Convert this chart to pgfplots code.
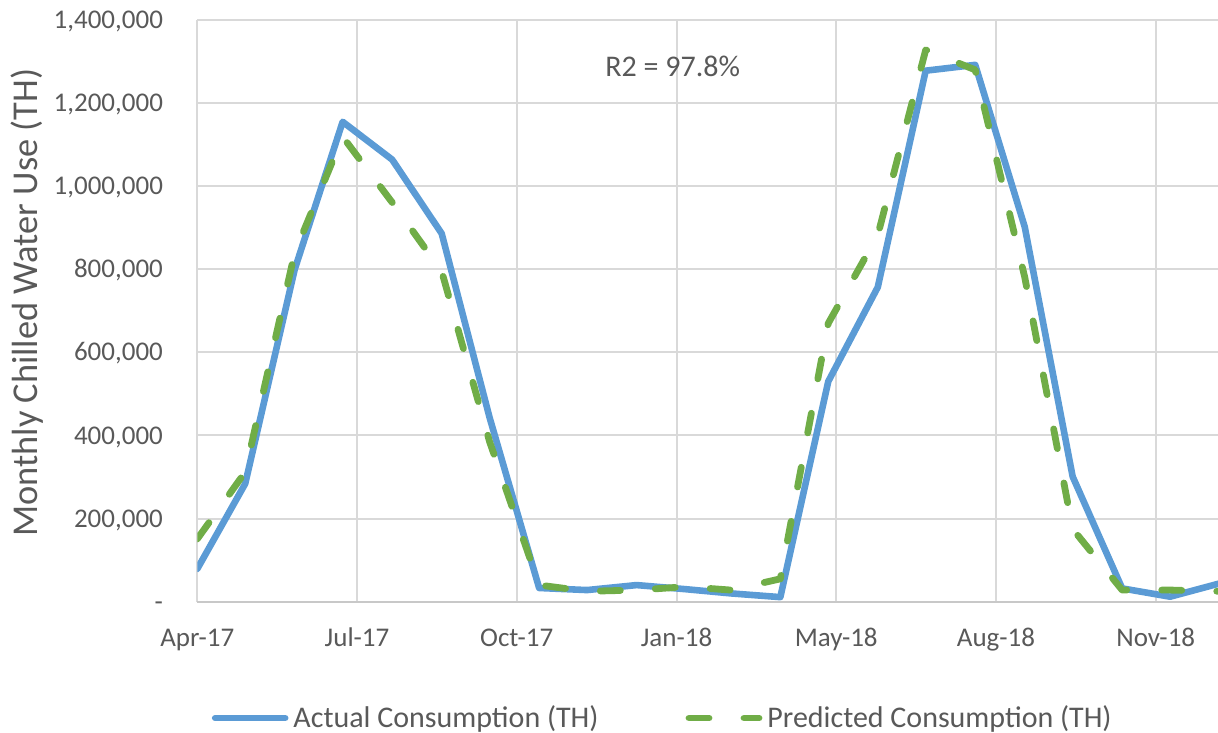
\documentclass[border=0pt]{standalone}
\usepackage{pgfplots}
\pgfplotsset{compat=1.18}
\usepackage{fontspec}
\setmainfont{Carlito}
\definecolor{cblue}{HTML}{5B9BD5}
\definecolor{cgreen}{HTML}{70AD47}
\definecolor{cgrid}{HTML}{D9D9D9}
\definecolor{caxis}{HTML}{C8C8C8}
\definecolor{ctext}{HTML}{595959}
\begin{document}
\begin{tikzpicture}
\begin{axis}[
  scale only axis, width=510.35pt, height=290.85pt,
  xmin=0, xmax=639, ymin=0, ymax=1400000,
  axis x line*=bottom, axis y line*=left,
  x axis line style={draw=caxis, line width=1.2pt, -},
  y axis line style={draw=none},
  xtick={0,100,200,300,400,500,600},
  xticklabels={Apr-17,Jul-17,Oct-17,Jan-18,May-18,Aug-18,Nov-18},
  ytick={0,200000,400000,600000,800000,1000000,1200000,1400000},
  yticklabels={{-\hspace{5.5pt}},{200,000},{400,000},{600,000},{800,000},{1,000,000},{1,200,000},{1,400,000}},
  scaled y ticks=false,
  major tick length=0pt,
  grid=major, major grid style={draw=cgrid, line width=1pt},
  tick label style={font=\fontsize{13.5}{16}\selectfont, text=ctext},
  xticklabel style={anchor=base, inner sep=0pt, yshift=-22.5pt},
  yticklabel style={anchor=base east, inner sep=0pt, xshift=-17pt, yshift=-4.3pt},
  ylabel={Monthly Chilled Water Use (TH)},
  ylabel style={at={(axis description cs:-0.1669,0.514)}, anchor=center, font=\fontsize{18.2}{22}\selectfont, text=ctext},
  legend style={at={(axis description cs:0.4575,-0.2)}, anchor=center, draw=none, fill=none,
    font=\fontsize{15}{18}\selectfont, text=ctext, legend columns=2,
    /tikz/every even column/.append style={column sep=41pt}, nodes={inner sep=2.5pt}},
  legend image code/.code={\draw[#1] (0pt,0pt) -- (35pt,0pt);},
  clip=true,
]
\addplot[cblue, line width=3.3pt, line join=round, line cap=round] coordinates {
(0,79000) (30,284000) (61,800000) (91,1155000) (122,1064000) (153,886000)
(183,443000) (214,33000) (244,28000) (275,40000) (306,30000) (334,20000)
(365,11000) (395,530000) (426,757000) (456,1278000) (487,1292000) (518,902000)
(548,301000) (579,32000) (609,12000) (640,44000)
};
\addplot[cgreen, line width=3.4pt, line join=round, line cap=round, dash pattern=on 10pt off 17.5pt] coordinates {
(0,151000) (30,312000) (61,840000) (91,1119000) (122,961000) (153,795000)
(183,385000) (214,40000) (244,25000) (275,28000) (306,36000) (334,28000)
(365,55000) (395,670000) (426,882000) (456,1328000) (487,1280000) (518,781000)
(548,175000) (579,28000) (609,28000) (640,25000)
};
\legend{Actual Consumption (TH), Predicted Consumption (TH)}
\node[anchor=base, font=\fontsize{15}{18}\selectfont, text=ctext] at (axis cs:297.6,1265000) {R2 = 97.8\%};
\end{axis}
\pgfresetboundingbox
\path (-98.65pt,-65.15pt) rectangle (510.35pt,300.85pt);
\end{tikzpicture}
\end{document}
